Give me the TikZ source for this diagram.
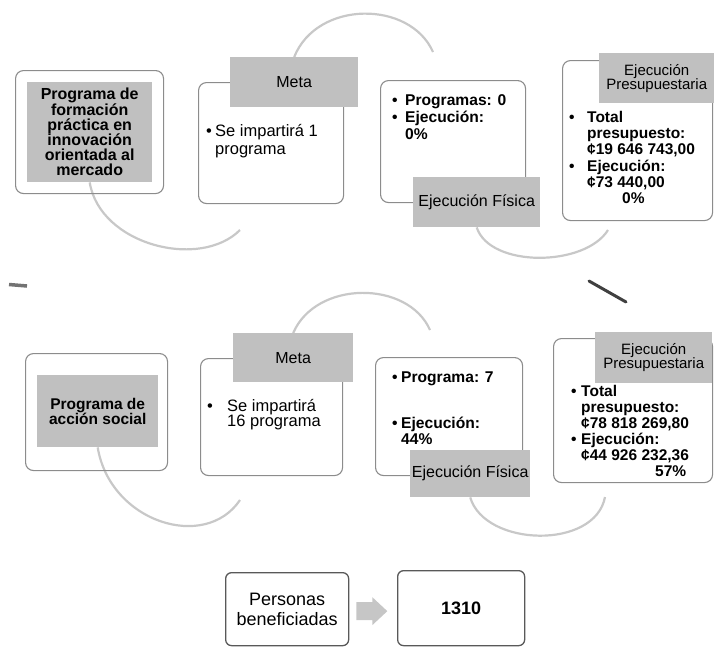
\documentclass[tikz,border=0pt]{standalone}
\usepackage{fontspec}
\setmainfont{Liberation Sans}
\definecolor{boxline}{RGB}{140,140,140}
\definecolor{labelfill}{RGB}{192,192,192}
\definecolor{arcline}{RGB}{200,200,200}
\definecolor{arrowfill}{RGB}{198,198,198}
\newcommand\bul[1]{\makebox[#1][l]{•}}
\newcommand\ind[1]{\hspace*{#1}}
\pgfdeclarelayer{background}
\pgfsetlayers{background,main}
\begin{document}
\begin{tikzpicture}[x=1pt,y=-1pt,
  outerbox/.style={draw=boxline, line width=1.1pt, rounded corners=8pt, anchor=north west, inner sep=0pt},
  labelbox/.style={fill=labelfill, draw=none, anchor=north west, inner sep=0pt, align=center},
  plainbox/.style={draw=black!65, line width=1.3pt, rounded corners=6pt, anchor=north west, inner sep=0pt, align=center},
  bodytext/.style={anchor=north west, inner sep=0pt, align=left},
  arcpath/.style={draw=arcline, line width=2.2pt},
  regtext/.style={font=\fontsize{16}{16}\selectfont},
]
\useasboundingbox (0,0) rectangle (714,646);

% ---------- top row outer boxes ----------
\node[outerbox, minimum width=148pt, minimum height=123pt] (t1out) at (15,70) {};
\node[outerbox, minimum width=145pt, minimum height=121pt] (t2out) at (198,82) {};
\node[outerbox, minimum width=145pt, minimum height=122pt] (t3out) at (380,80) {};
\node[outerbox, minimum width=150pt, minimum height=160pt] (t4out) at (562,60) {};

% ---------- bottom row outer boxes ----------
\node[outerbox, minimum width=142pt, minimum height=117pt] (b1out) at (25,353) {};
\node[outerbox, minimum width=142pt, minimum height=117pt] (b2out) at (200,358) {};
\node[outerbox, minimum width=147pt, minimum height=118pt] (b3out) at (375,357) {};
\node[outerbox, minimum width=159pt, minimum height=144pt] (b4out) at (553,338) {};

% ---------- gray labels ----------
\node[labelbox, minimum width=125pt, minimum height=100pt,
      font=\bfseries\fontsize{16}{15.2}\selectfont] (t1in) at (27,82)
  {Programa de\\formación\\práctica en\\innovación\\orientada al\\mercado};
\node[labelbox, minimum width=128pt, minimum height=50pt, regtext] (t2lab) at (230,57) {Meta};
\node[labelbox, minimum width=127pt, minimum height=50pt, regtext] (t3lab) at (413,177) {Ejecución Física};
\node[labelbox, minimum width=115pt, minimum height=50pt,
      font=\fontsize{15}{14}\selectfont] (t4lab) at (599,53) {Ejecución\\Presupuestaria};

\node[labelbox, minimum width=121pt, minimum height=72pt,
      font=\bfseries\fontsize{15.5}{15}\selectfont] (b1in) at (37,375) {Programa de\\acción social};
\node[labelbox, minimum width=120pt, minimum height=49pt, regtext] (b2lab) at (233,333) {Meta};
\node[labelbox, minimum width=120pt, minimum height=47pt, regtext] (b3lab) at (410,450) {Ejecución Física};
\node[labelbox, minimum width=117pt, minimum height=51pt,
      font=\fontsize{15}{14}\selectfont] (b4lab) at (595,332) {Ejecución\\Presupuestaria};

% ---------- arcs (free ends), behind the boxes ----------
\coordinate (a1e) at (240,230);
\coordinate (a2e) at (433,52);
\coordinate (a3e) at (608,230);
\coordinate (a4e) at (240,500);
\coordinate (a5e) at (430,330);
\coordinate (a6e) at (605,497);
\begin{pgfonlayer}{background}
\draw[arcpath] (t1in.south) .. controls (100,245) and (200,270) .. (a1e);
\draw[arcpath] (t2lab.north) .. controls (317,0) and (410,0) .. (a2e);
\draw[arcpath] (t3lab.south) .. controls (490,268) and (585,267) .. (a3e);
\draw[arcpath] (b1in.south) .. controls (110,522) and (205,552) .. (a4e);
\draw[arcpath] (b2lab.north) .. controls (316,280) and (408,280) .. (a5e);
\draw[arcpath] (b3lab.south) .. controls (485,547) and (595,550) .. (a6e);
\end{pgfonlayer}

% ---------- body texts ----------
\node[bodytext, font=\fontsize{16.5}{18}\selectfont] (t2txt) at (206,124)
  {\bul{9pt}Se impartirá 1\\\ind{9pt}programa};
\node[bodytext, font=\bfseries\fontsize{15.6}{17}\selectfont] (t3txt) at (392,94)
  {\bul{13pt}Programas: 0\\\bul{13pt}Ejecución:\\\ind{13pt}0\%};
\node[bodytext, font=\bfseries\fontsize{15.5}{16.2}\selectfont] (t4txt) at (569,111)
  {\bul{18pt}Total\\\ind{18pt}presupuesto:\\\ind{18pt}¢19 646 743,00\\\bul{18pt}Ejecución:\\\ind{18pt}¢73 440,00\\\ind{53pt}0\%};

\node[bodytext, font=\fontsize{16.5}{15.5}\selectfont] (b2txt) at (207,399)
  {\bul{20pt}Se impartirá\\\ind{20pt}16 programa};
\node[bodytext, font=\bfseries\fontsize{15.6}{16}\selectfont] (b3txt) at (392,372)
  {\bul{9pt}Programa: 7\\[30pt]\bul{9pt}Ejecución:\\\ind{9pt}44\%};
\node[bodytext, font=\bfseries\fontsize{15.5}{16}\selectfont] (b4txt) at (571,385)
  {\bul{10pt}Total\\\ind{10pt}presupuesto:\\\ind{10pt}¢78 818 269,80\\\bul{10pt}Ejecución:\\\ind{10pt}¢44 926 232,36\\\ind{84pt}57\%};

% ---------- bottom summary ----------
\node[plainbox, minimum width=123pt, minimum height=73pt,
      font=\fontsize{18}{20}\selectfont] (pers) at (225,572) {Personas\\beneficiadas};
\node[plainbox, minimum width=127pt, minimum height=75pt,
      font=\bfseries\fontsize{18}{20}\selectfont] (num) at (397,570) {1310};
\fill[arrowfill] ([xshift=7pt,yshift=7pt]pers.east) -- ++(16,0) -- ++(0,-5) -- ++(15,14)
  -- ++(-15,14) -- ++(0,-5) -- ++(-16,0) -- cycle;

% ---------- scan marks ----------
\draw[line width=3.5pt, black!55] (9,284.5) -- (27,286);
\draw[line width=3pt, black!75, line cap=round] (589,281) -- (626,302);
\end{tikzpicture}
\end{document}
